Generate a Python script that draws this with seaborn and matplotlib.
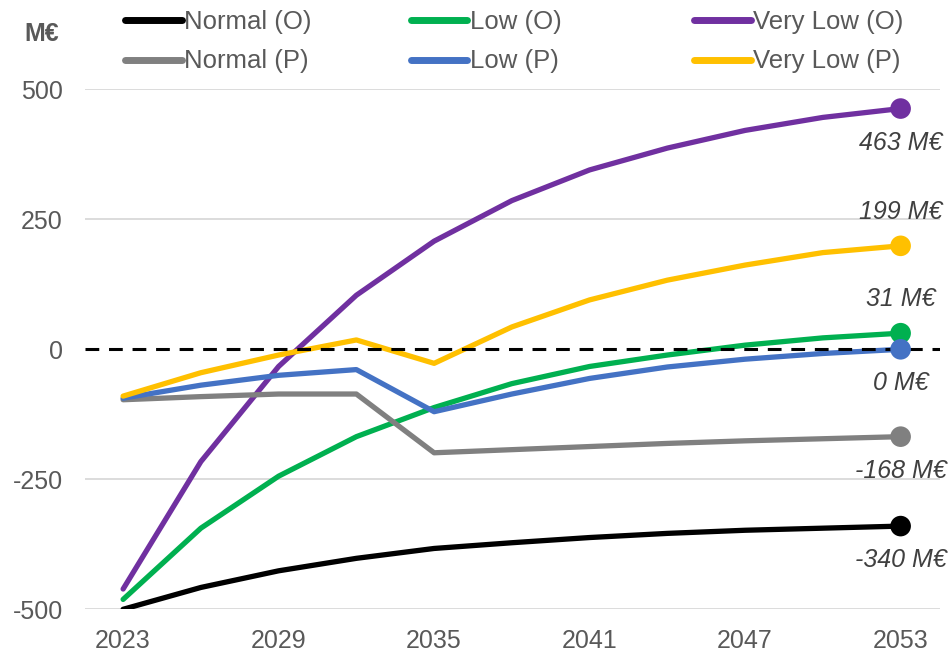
import matplotlib
matplotlib.use("Agg")
import matplotlib.pyplot as plt
from matplotlib.lines import Line2D
import seaborn as sns
import pandas as pd

# Cumulative balance per scenario, M€
years = [2023, 2026, 2029, 2032, 2035, 2038, 2041, 2044, 2047, 2050, 2053]
normal_o = [-500, -458, -426, -402, -383, -372, -362, -354, -348, -344, -340]
low_o = [-481, -344, -244, -168, -112, -66, -33, -11, 8, 22, 31]
very_low_o = [-461, -216, -33, 104, 208, 286, 345, 387, 421, 446, 463]
normal_p = [-97, -91, -86, -86, -199, -193, -187, -181, -176, -172, -168]
low_p = [-94, -69, -50, -39, -120, -86, -56, -34, -19, -8, 0]
very_low_p = [-90, -45, -11, 18, -27, 43, 95, 133, 162, 186, 199]

scenarios = ["Normal (O)", "Low (O)", "Very Low (O)",
             "Normal (P)", "Low (P)", "Very Low (P)"]
series = [normal_o, low_o, very_low_o, normal_p, low_p, very_low_p]
colors = ["#000000", "#00B050", "#7030A0", "#808080", "#4472C4", "#FFC000"]
palette = dict(zip(scenarios, colors))

x_ticks = [2023, 2029, 2035, 2041, 2047, 2053]
y_ticks = [-500, -250, 0, 250, 500]

df = pd.DataFrame(
    [(s, y, v) for s, vals in zip(scenarios, series) for y, v in zip(years, vals)],
    columns=["scenario", "year", "value"],
)

sns.set_theme(style="white")
plt.rcParams["font.family"] = ["Liberation Sans", "DejaVu Sans"]
plt.rcParams["axes.unicode_minus"] = False

TXT = "#595959"
FS = 18

fig = plt.figure(figsize=(9.52, 6.52), dpi=100)
ax = fig.add_axes([0.0893, 0.0655, 0.8981, 0.7975])

sns.lineplot(data=df, x="year", y="value", hue="scenario", hue_order=scenarios,
             palette=palette, linewidth=3.8, legend=False, ax=ax, zorder=3)

# zero reference line
ax.axhline(0, color="black", linewidth=2.2, dashes=(4.5, 3.2), zorder=4)

# end-point markers and value labels
last = df[df["year"] == years[-1]]
sns.scatterplot(data=last, x="year", y="value", hue="scenario", hue_order=scenarios,
                palette=palette, s=220, edgecolor="none", legend=False, ax=ax, zorder=5)

label_above = {"Very Low (P)", "Low (O)"}
for name, vals in zip(scenarios, series):
    v = vals[-1]
    off = 34 if name in label_above else -34
    ax.annotate(f"{v} M€", (years[-1], v), xytext=(0, off), textcoords="offset pixels",
                ha="center", va="center", fontsize=FS, style="italic", color="#404040",
                zorder=6)

ax.set_xlim(2021.53, 2054.52)
ax.set_ylim(-500, 500)
ax.set_xticks(x_ticks)
ax.set_yticks(y_ticks)
ax.set_xlabel("")
ax.set_ylabel("")
ax.tick_params(axis="both", length=0, labelsize=FS, labelcolor=TXT)
ax.tick_params(axis="x", pad=14)
ax.tick_params(axis="y", pad=16)

for yv in y_ticks:
    if yv != 0:
        ax.axhline(yv, color="#D9D9D9", linewidth=1.3, zorder=1)
for sp in ax.spines.values():
    sp.set_visible(False)

fig.text(0.026, 0.948, "M€", fontsize=FS, fontweight="bold", color=TXT,
         ha="left", va="center")

# legend laid out in three columns (O above, P below)
col_x = [0.1165, 0.4165, 0.7145]
for i, cx in enumerate(col_x):
    names = [scenarios[i], scenarios[i + 3]]
    handles = [Line2D([], [], color=palette[n], linewidth=5, solid_capstyle="round")
               for n in names]
    fig.legend(handles, names, loc="upper left", bbox_to_anchor=(cx, 1.007),
               frameon=False, fontsize=18.5, handlelength=2.2, handletextpad=0.1,
               borderpad=0.05, labelspacing=0.62, labelcolor=TXT)

fig.savefig("out.png", dpi=100)
